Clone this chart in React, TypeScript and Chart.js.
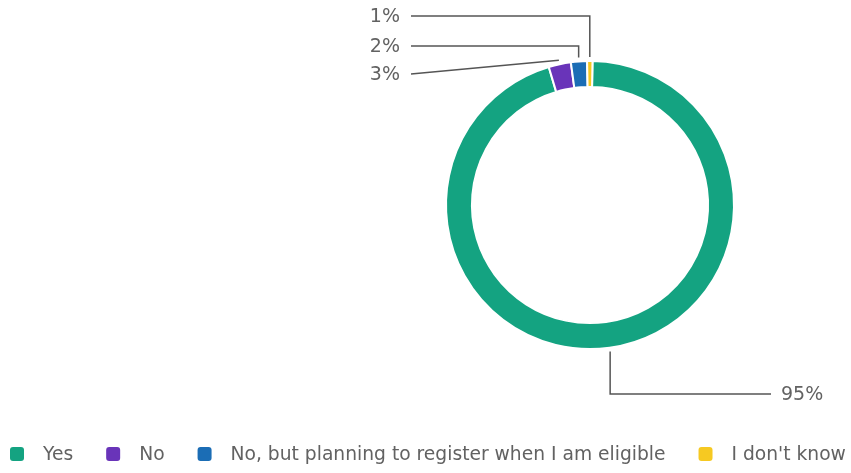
import React, { useEffect, useRef } from "react";
import { Chart, registerables } from "chart.js";

Chart.register(...registerables);

const categories = ["Yes", "No", "No, but planning to register when I am eligible", "I don't know"];
const values = [95.1, 2.5, 1.8, 0.6];
const colors = ["#14a381", "#6934b9", "#1b6db5", "#f6c922"];

const FONT = "'DejaVu Sans', Verdana, sans-serif";
const TEXT = "#626262";
const LINE = "#555555";

const calloutPlugin = {
  id: "callouts",
  afterDraw(chart: any) {
    const ctx = chart.ctx;
    const meta = chart.getDatasetMeta(0);
    const total = values.reduce((a, b) => a + b, 0);
    ctx.save();
    ctx.strokeStyle = LINE;
    ctx.lineWidth = 1.5;
    ctx.fillStyle = TEXT;
    ctx.font = `19px ${FONT}`;
    ctx.textBaseline = "middle";
    meta.data.forEach((arc: any, i: number) => {
      const p = arc.getProps(["x", "y", "startAngle", "endAngle", "outerRadius"], true);
      const mid = (p.startAngle + p.endAngle) / 2;
      const r = p.outerRadius + 4;
      const ax = p.x + Math.cos(mid) * r;
      const ay = p.y + Math.sin(mid) * r;
      const txt = Math.round((values[i] / total) * 100) + "%";
      ctx.beginPath();
      if (i === 0) {
        const ly = 394;
        ctx.moveTo(ax, ay);
        ctx.lineTo(ax, ly);
        ctx.lineTo(771, ly);
        ctx.stroke();
        ctx.textAlign = "left";
        ctx.fillText(txt, 781, ly + 1);
      } else if (i === 1) {
        const ly = 74;
        ctx.moveTo(411, ly);
        ctx.lineTo(ax, ay);
        ctx.stroke();
        ctx.textAlign = "right";
        ctx.fillText(txt, 400, ly + 1);
      } else {
        const ly = i === 2 ? 46 : 16;
        ctx.moveTo(411, ly);
        ctx.lineTo(ax, ly);
        ctx.lineTo(ax, ay);
        ctx.stroke();
        ctx.textAlign = "right";
        ctx.fillText(txt, 400, ly + 1);
      }
    });
    ctx.restore();
  },
};

const legendPlugin = {
  id: "customLegend",
  afterDraw(chart: any) {
    const ctx = chart.ctx;
    ctx.save();
    ctx.font = `18.7px ${FONT}`;
    ctx.textBaseline = "middle";
    ctx.textAlign = "left";
    const y = 454;
    let x = 10;
    categories.forEach((c, i) => {
      ctx.fillStyle = colors[i];
      ctx.beginPath();
      (ctx as any).roundRect(x, y - 7, 14, 14, 3);
      ctx.fill();
      ctx.fillStyle = TEXT;
      const tx = x + 33;
      ctx.fillText(c, tx, y + 1);
      x = tx + ctx.measureText(c).width + 33;
    });
    ctx.restore();
  },
};

export default function App() {
  const ref = useRef<HTMLCanvasElement>(null);
  useEffect(() => {
    document.body.style.margin = "0";
    const chart = new Chart(ref.current!, {
      type: "doughnut",
      data: {
        labels: categories,
        datasets: [
          {
            data: values,
            backgroundColor: colors,
            borderColor: "#ffffff",
            borderWidth: 2,
          },
        ],
      },
      options: {
        animation: false,
        responsive: false,
        rotation: 1,
        cutout: "82%",
        layout: { padding: { top: 60, bottom: 123, left: 445, right: 116 } },
        plugins: {
          legend: { display: false },
          tooltip: { enabled: false },
        },
      },
      plugins: [calloutPlugin, legendPlugin],
    });
    return () => chart.destroy();
  }, []);
  return (
    <div style={{ width: 851, height: 473, background: "#fff" }}>
      <canvas ref={ref} width={851} height={473} style={{ display: "block" }} />
    </div>
  );
}
